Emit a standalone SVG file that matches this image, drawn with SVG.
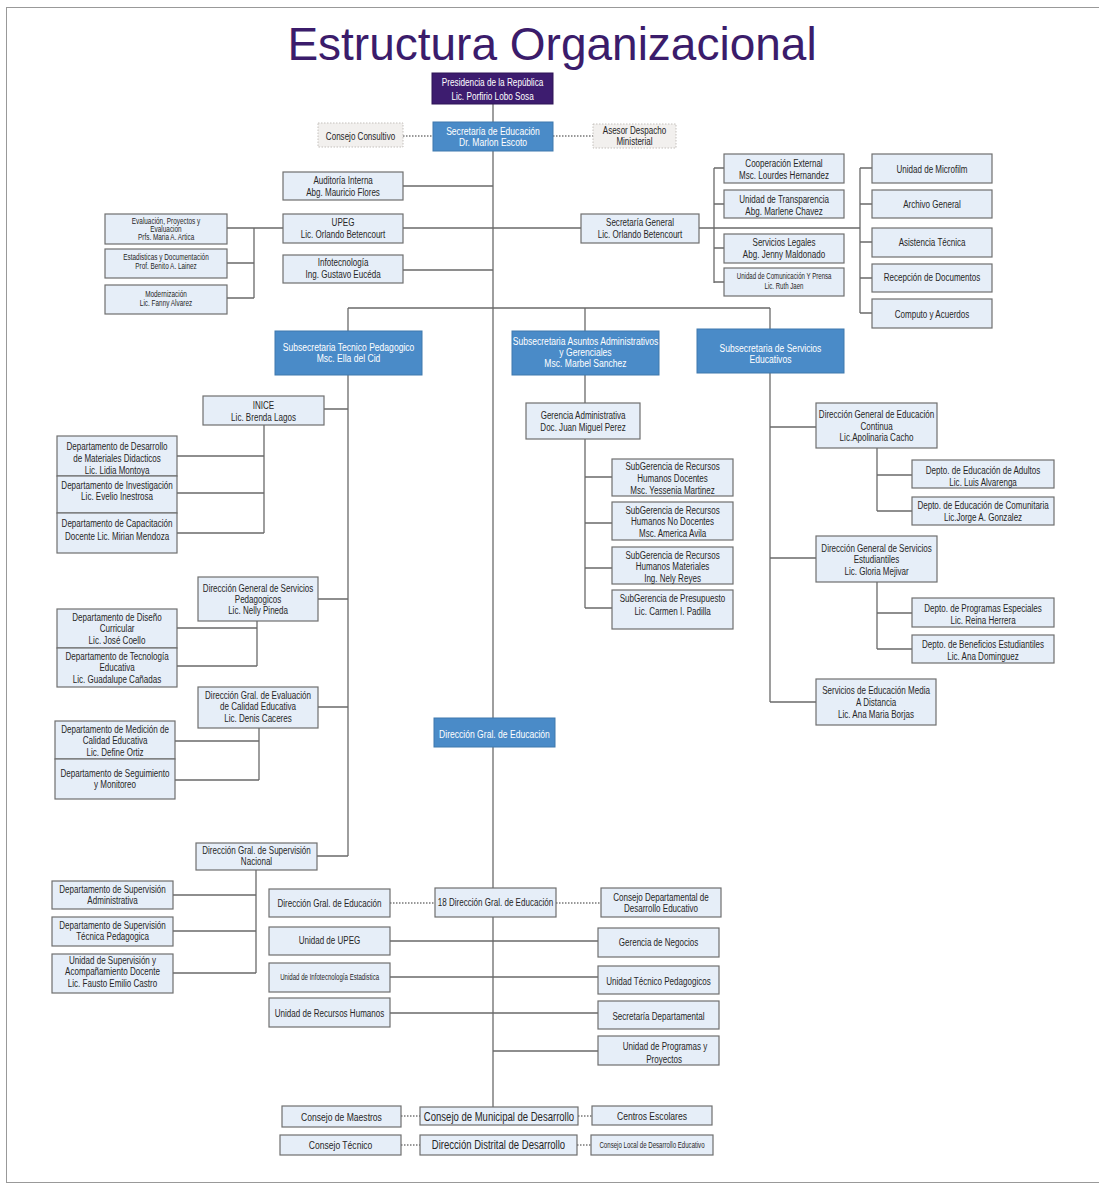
<svg xmlns="http://www.w3.org/2000/svg" width="1099" height="1184" viewBox="0 0 1099 1184">
<style>
text{font-family:'Liberation Sans Narrow','Liberation Sans',sans-serif;font-size:10.8px;fill:#262626;text-anchor:middle;transform-box:fill-box;transform-origin:center;transform:scaleX(0.745)}
.n rect{fill:#e6eef8;stroke:#6f6f6f;stroke-width:1.2}
.b rect{fill:#4a8bc8;stroke:#3f78ad;stroke-width:1}
.b text{fill:#fff;font-size:11.5px}
.p rect{fill:#3d1c6f;stroke:#2e1456;stroke-width:1}
.p text{fill:#fff;font-size:11px}
.g rect{fill:#f2f0ee;stroke:#c4c0bc;stroke-width:1;stroke-dasharray:1.5 1.5}
.s text{font-size:8.6px}
.xs text{font-size:8.2px}
.l text{font-size:12.8px}
.m text{font-size:11.5px}
.c path{fill:none;stroke:#6a6a6a;stroke-width:1.3}
.c .d{stroke-dasharray:1.5 1.5;stroke:#777}
text.title{font-family:'Liberation Sans',Arial,sans-serif;font-size:46px;fill:#3b1c6b;transform:none}
</style>
<rect x="6.5" y="7.5" width="1100" height="1175" fill="#fff" stroke="#999" stroke-width="1"/>
<text class="title" x="552" y="60">Estructura Organizacional</text>
<g id="connectors" class="c">
<path d="M493 104V1107"/>
<path class="d" d="M403 136H433M553 136H593"/>
<path d="M403 186H493M403 228H581M403 270H493"/>
<path d="M227 228H283M227 263H254M227 298H254M254 228V298"/>
<path d="M699 228H860M714 168V283M714 168H724M714 204H724M714 248H724M714 282H724"/>
<path d="M860 168V313M860 168H872M860 204H872M860 242H872M860 278H872M860 313H872"/>
<path d="M348 308H770M348 308V856M585 308V331M770 308V329"/>
<path d="M324 409H348M318 599H348M318 707H348M317 856H348"/>
<path d="M264 425V533M177 456H264M177 493H264M177 533H264"/>
<path d="M257 621V666M177 628H257M177 666H257"/>
<path d="M259 728V780M175 741H259M175 780H259"/>
<path d="M256 870V973M173 895H256M173 931H256M173 973H256"/>
<path d="M585 375V608M585 477H612M585 523H612M585 568H612M585 608H612"/>
<path d="M770 373V702M770 427H816M770 558H816M770 702H816"/>
<path d="M877 448V511M877 475H912M877 511H912"/>
<path d="M877 582V649M877 613H912M877 649H912"/>
<path class="d" d="M390 903H435M556 903H601"/>
<path d="M390 941H598M390 977H598M390 1013H598M493 1051H598"/>
<path class="d" d="M401 1116H420M578 1116H592M401 1145H420M577 1145H591"/>
</g>
<g id="presidencia" class="p"><rect x="432" y="73" width="121" height="31"/><text x="492.5" y="86.3">Presidencia de la República</text><text x="492.5" y="99.8">Lic. Porfirio Lobo Sosa</text></g>
<g id="secretaria-educacion" class="b"><rect x="433" y="122" width="120" height="29"/><text x="493" y="135.3">Secretaría de Educación</text><text x="493" y="146">Dr. Marlon Escoto</text></g>
<g id="consejo-consultivo" class="g"><rect x="318" y="123" width="85" height="24"/><text x="360.5" y="139.7">Consejo Consultivo</text></g>
<g id="asesor-despacho" class="g"><rect x="593" y="124" width="83" height="24"/><text x="634.5" y="134.3">Asesor Despacho</text><text x="634.5" y="144.7">Ministerial</text></g>
<g id="auditoria" class="n"><rect x="283" y="172" width="120" height="28"/><text x="343" y="183.7">Auditoría Interna</text><text x="343" y="195.7">Abg. Mauricio Flores</text></g>
<g id="upeg" class="n"><rect x="283" y="214" width="120" height="29"/><text x="343" y="226.3">UPEG</text><text x="343" y="238">Lic. Orlando Betencourt</text></g>
<g id="infotecnologia" class="n"><rect x="283" y="255" width="120" height="28"/><text x="343" y="266.3">Infotecnología</text><text x="343" y="278">Ing. Gustavo Eucéda</text></g>
<g id="evaluacion" class="n s"><rect x="105" y="214" width="122" height="30"/><text x="166" y="224">Evaluación, Proyectos y</text><text x="166" y="232.3">Evaluacion</text><text x="166" y="240.5">Prfs. Maria A. Artica</text></g>
<g id="estadisticas" class="n s"><rect x="105" y="249" width="122" height="29"/><text x="166" y="260.3">Estadisticas y Documentación</text><text x="166" y="269.3">Prof. Benito A. Lainez</text></g>
<g id="modernizacion" class="n s"><rect x="105" y="285" width="122" height="29"/><text x="166" y="297.3">Modernización</text><text x="166" y="305.8">Lic. Fanny Alvarez</text></g>
<g id="secretaria-general" class="n"><rect x="581" y="214" width="118" height="29"/><text x="640" y="226.3">Secretaría General</text><text x="640" y="238">Lic. Orlando Betencourt</text></g>
<g id="cooperacion" class="n"><rect x="724" y="154" width="120" height="29"/><text x="784" y="167">Cooperación External</text><text x="784" y="179.3">Msc. Lourdes Hernandez</text></g>
<g id="transparencia" class="n"><rect x="724" y="190" width="120" height="28"/><text x="784" y="203">Unidad de Transparencia</text><text x="784" y="214.7">Abg. Marlene Chavez</text></g>
<g id="servicios-legales" class="n"><rect x="724" y="234" width="120" height="29"/><text x="784" y="246">Servicios Legales</text><text x="784" y="258">Abg. Jenny Maldonado</text></g>
<g id="comunicacion" class="n xs"><rect x="724" y="268" width="120" height="28"/><text x="784" y="278.9">Unidad  de Comunicación Y Prensa</text><text x="784" y="288.9">Lic. Ruth Jaen</text></g>
<g id="microfilm" class="n"><rect x="872" y="154" width="120" height="29"/><text x="932" y="173">Unidad de Microfilm</text></g>
<g id="archivo" class="n"><rect x="872" y="190" width="120" height="28"/><text x="932" y="207.7">Archivo General</text></g>
<g id="asistencia" class="n"><rect x="872" y="228" width="120" height="29"/><text x="932" y="246.4">Asistencia Técnica</text></g>
<g id="recepcion" class="n"><rect x="872" y="264" width="120" height="28"/><text x="932" y="281.4">Recepción de Documentos</text></g>
<g id="computo" class="n"><rect x="872" y="299" width="120" height="29"/><text x="932" y="318">Computo y Acuerdos</text></g>
<g id="sub-tecnico" class="b"><rect x="275" y="331" width="147" height="44"/><text x="348.5" y="350.7">Subsecretaria Tecnico Pedagogico</text><text x="348.5" y="361.7">Msc. Ella del Cid</text></g>
<g id="sub-administrativos" class="b"><rect x="512" y="331" width="147" height="44"/><text x="585.5" y="344.7">Subsecretaria Asuntos Administrativos</text><text x="585.5" y="355.7">y Gerenciales</text><text x="585.5" y="366.7">Msc. Marbel Sanchez</text></g>
<g id="sub-servicios" class="b"><rect x="697" y="329" width="147" height="44"/><text x="770.5" y="351.7">Subsecretaria de Servicios</text><text x="770.5" y="363.3">Educativos</text></g>
<g id="inice" class="n"><rect x="203" y="396" width="121" height="29"/><text x="263.5" y="409.4">INICE</text><text x="263.5" y="421.4">Lic. Brenda Lagos</text></g>
<g id="dep-desarrollo" class="n"><rect x="57" y="436" width="120" height="40"/><text x="117" y="450.4">Departamento de Desarrollo</text><text x="117" y="462">de Materiales Didacticos</text><text x="117" y="473.7">Lic. Lidia Montoya</text></g>
<g id="dep-investigacion" class="n"><rect x="57" y="476" width="120" height="37"/><text x="117" y="488.7">Departamento de Investigación</text><text x="117" y="500.4">Lic. Evelio Inestrosa</text></g>
<g id="dep-capacitacion" class="n"><rect x="57" y="513" width="120" height="40"/><text x="117" y="527">Departamento de Capacitación</text><text x="117" y="539.7">Docente Lic. Mirian Mendoza</text></g>
<g id="dg-servicios-pedagogicos" class="n"><rect x="198" y="577" width="120" height="44"/><text x="258" y="592">Dirección General de Servicios</text><text x="258" y="603">Pedagogicos</text><text x="258" y="613.7">Lic. Nelly Pineda</text></g>
<g id="dep-diseno" class="n"><rect x="57" y="609" width="120" height="39"/><text x="117" y="620.7">Departamento de Diseño</text><text x="117" y="632">Curricular</text><text x="117" y="643.7">Lic. José Coello</text></g>
<g id="dep-tecnologia" class="n"><rect x="57" y="648" width="120" height="39"/><text x="117" y="659.7">Departamento de Tecnología</text><text x="117" y="671.4">Educativa</text><text x="117" y="683">Lic. Guadalupe Cañadas</text></g>
<g id="dg-evaluacion" class="n"><rect x="198" y="687" width="120" height="41"/><text x="258" y="698.7">Dirección Gral. de Evaluación</text><text x="258" y="710.4">de Calidad Educativa</text><text x="258" y="722">Lic. Denis Caceres</text></g>
<g id="dep-medicion" class="n"><rect x="55" y="721" width="120" height="38"/><text x="115" y="732.7">Departamento de Medición de</text><text x="115" y="744.4">Calidad Educativa</text><text x="115" y="756">Lic. Define Ortiz</text></g>
<g id="dep-seguimiento" class="n"><rect x="55" y="759" width="120" height="40"/><text x="115" y="777">Departamento de Seguimiento</text><text x="115" y="788">y Monitoreo</text></g>
<g id="dg-supervision" class="n"><rect x="196" y="843" width="121" height="27"/><text x="256.5" y="854.4">Dirección Gral. de Supervisión</text><text x="256.5" y="865.4">Nacional</text></g>
<g id="dep-sup-admin" class="n"><rect x="52" y="881" width="121" height="28"/><text x="112.5" y="893">Departamento de Supervisión</text><text x="112.5" y="903.7">Administrativa</text></g>
<g id="dep-sup-tecnica" class="n"><rect x="52" y="917" width="121" height="29"/><text x="112.5" y="928.7">Departamento de Supervisión</text><text x="112.5" y="940.4">Técnica Pedagogica</text></g>
<g id="unidad-supervision" class="n"><rect x="52" y="954" width="121" height="39"/><text x="112.5" y="964.4">Unidad de Supervisión y</text><text x="112.5" y="975.4">Acompañamiento Docente</text><text x="112.5" y="987">Lic. Fausto Emilio Castro</text></g>
<g id="gerencia-administrativa" class="n"><rect x="526" y="403" width="114" height="36"/><text x="583" y="418.7">Gerencia Administrativa</text><text x="583" y="431.4">Doc. Juan Miguel Perez</text></g>
<g id="subgerencia-docentes" class="n"><rect x="612" y="459" width="121" height="37"/><text x="672.5" y="470.4">SubGerencia de Recursos</text><text x="672.5" y="482">Humanos Docentes</text><text x="672.5" y="494.4">Msc. Yessenia Martinez</text></g>
<g id="subgerencia-no-docentes" class="n"><rect x="612" y="502" width="121" height="38"/><text x="672.5" y="514.4">SubGerencia de Recursos</text><text x="672.5" y="525.4">Humanos No Docentes</text><text x="672.5" y="537">Msc. America Avila</text></g>
<g id="subgerencia-materiales" class="n"><rect x="612" y="547" width="121" height="37"/><text x="672.5" y="559.4">SubGerencia de Recursos</text><text x="672.5" y="570.4">Humanos Materiales</text><text x="672.5" y="582">Ing. Nely Reyes</text></g>
<g id="subgerencia-presupuesto" class="n"><rect x="612" y="590" width="121" height="39"/><text x="672.5" y="602">SubGerencia de Presupuesto</text><text x="672.5" y="615.4">Lic. Carmen I. Padilla</text></g>
<g id="dg-educacion-continua" class="n"><rect x="816" y="403" width="121" height="45"/><text x="876.5" y="417.7">Dirección General de Educación</text><text x="876.5" y="429.7">Continua</text><text x="876.5" y="441">Lic.Apolinaria Cacho</text></g>
<g id="depto-adultos" class="n"><rect x="912" y="460" width="142" height="28"/><text x="983" y="473.7">Depto. de Educación de Adultos</text><text x="983" y="486.4">Lic. Luis Alvarenga</text></g>
<g id="depto-comunitaria" class="n"><rect x="912" y="497" width="142" height="28"/><text x="983" y="509.4">Depto. de Educación de Comunitaria</text><text x="983" y="521.4">Lic.Jorge A. Gonzalez</text></g>
<g id="dg-servicios-estudiantiles" class="n"><rect x="816" y="536" width="121" height="46"/><text x="876.5" y="552">Dirección General de Servicios</text><text x="876.5" y="563">Estudiantiles</text><text x="876.5" y="575.4">Lic. Gloria Mejivar</text></g>
<g id="depto-programas" class="n"><rect x="912" y="598" width="142" height="29"/><text x="983" y="612">Depto. de Programas Especiales</text><text x="983" y="623.7">Lic. Reina Herrera</text></g>
<g id="depto-beneficios" class="n"><rect x="912" y="635" width="142" height="28"/><text x="983" y="647.7">Depto. de Beneficios Estudiantiles</text><text x="983" y="659.7">Lic. Ana Dominguez</text></g>
<g id="educacion-media" class="n"><rect x="816" y="679" width="120" height="46"/><text x="876" y="694.4">Servicios de Educación Media</text><text x="876" y="706">A Distancia</text><text x="876" y="718">Lic. Ana Maria Borjas</text></g>
<g id="dg-educacion" class="b"><rect x="434" y="718" width="121" height="29"/><text x="494.5" y="738">Dirección Gral. de Educación</text></g>
<g id="dir-18" class="n"><rect x="435" y="888" width="121" height="29"/><text x="495.5" y="906.4">18 Dirección Gral. de Educación</text></g>
<g id="dg-educacion-local" class="n"><rect x="269" y="889" width="121" height="28"/><text x="329.5" y="906.7">Dirección Gral. de Educación</text></g>
<g id="consejo-departamental" class="n"><rect x="601" y="888" width="120" height="29"/><text x="661" y="901">Consejo Departamental de</text><text x="661" y="912">Desarrollo Educativo</text></g>
<g id="unidad-upeg" class="n"><rect x="269" y="927" width="121" height="28"/><text x="329.5" y="944.4">Unidad de UPEG</text></g>
<g id="gerencia-negocios" class="n"><rect x="598" y="928" width="121" height="29"/><text x="658.5" y="946.4">Gerencia de Negocios</text></g>
<g id="unidad-infotecnologia" class="n xs"><rect x="269" y="963" width="121" height="29"/><text x="329.5" y="980.4">Unidad de Infotecnología Estadistica</text></g>
<g id="unidad-tecnico" class="n"><rect x="598" y="966" width="121" height="28"/><text x="658.5" y="985.4">Unidad Técnico Pedagogicos</text></g>
<g id="unidad-rrhh" class="n"><rect x="269" y="998" width="121" height="29"/><text x="329.5" y="1017">Unidad de Recursos Humanos</text></g>
<g id="secretaria-departamental" class="n"><rect x="598" y="1001" width="121" height="28"/><text x="658.5" y="1019.7">Secretaría Departamental</text></g>
<g id="unidad-programas" class="n"><rect x="598" y="1036" width="121" height="29"/><text x="665" y="1050.4">Unidad de Programas y</text><text x="664" y="1063">Proyectos</text></g>
<g id="consejo-municipal" class="n l"><rect x="420" y="1107" width="158" height="18"/><text x="499" y="1121.2">Consejo de Municipal de Desarrollo</text></g>
<g id="consejo-maestros" class="n m"><rect x="282" y="1106" width="119" height="21"/><text x="341.5" y="1120.7">Consejo de Maestros</text></g>
<g id="centros-escolares" class="n m"><rect x="592" y="1106" width="120" height="19"/><text x="652" y="1120">Centros Escolares</text></g>
<g id="direccion-distrital" class="n l"><rect x="420" y="1135" width="157" height="20"/><text x="498.5" y="1149.5">Dirección Distrital de Desarrollo</text></g>
<g id="consejo-tecnico" class="n m"><rect x="280" y="1135" width="121" height="20"/><text x="340.5" y="1149">Consejo Técnico</text></g>
<g id="consejo-local" class="n xs"><rect x="591" y="1135" width="122" height="20"/><text x="652" y="1147.9">Consejo Local de Desarrollo Educativo</text></g>
</svg>
